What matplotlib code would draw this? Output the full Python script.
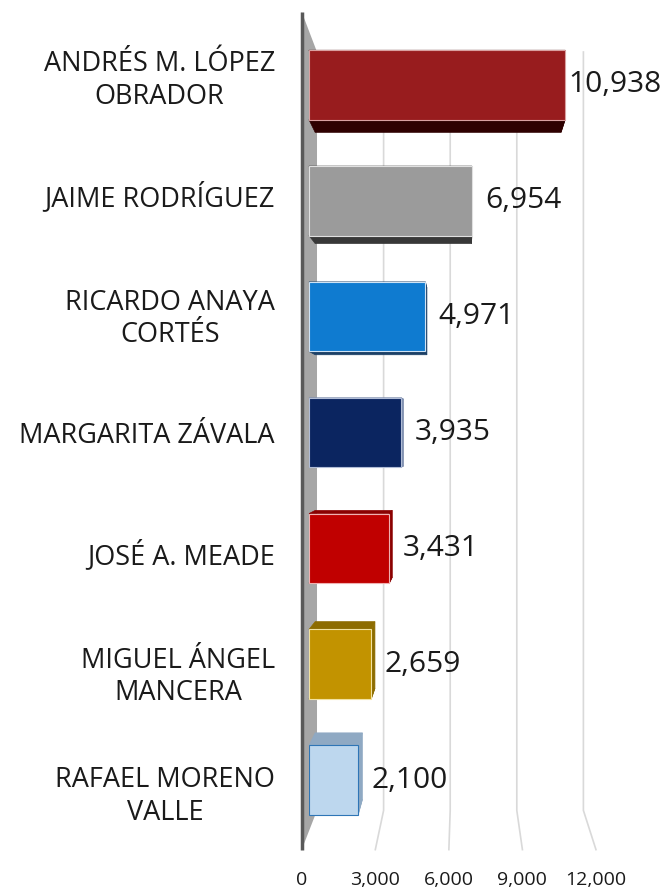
import matplotlib
matplotlib.use("Agg")
import matplotlib.pyplot as plt
from matplotlib.patches import Polygon

plt.rcParams["font.family"] = ["Open Sans", "DejaVu Sans"]

# data
candidates = [
    "ANDRÉS M. LÓPEZ\nOBRADOR",
    "JAIME RODRÍGUEZ",
    "RICARDO ANAYA\nCORTÉS",
    "MARGARITA ZÁVALA",
    "JOSÉ A. MEADE",
    "MIGUEL ÁNGEL\nMANCERA",
    "RAFAEL MORENO\nVALLE",
]
votes = [10938, 6954, 4971, 3935, 3431, 2659, 2100]
x_ticks = [0, 3000, 6000, 9000, 12000]

front_colors = ["#981c1e", "#9b9b9b", "#0f7bd0", "#0b2560", "#c00000", "#c29300", "#bdd7ee"]
side_colors = ["#2e0000", "#383838", "#1b3f66", "#8090b0", "#8b0000", "#8d6c00", "#8fa9c3"]
edge_colors = ["#d9a0a0", "#e0e0e0", "#cfe3f5", "#b0bcd6", "#f0b0b0", "#f2e2a0", "#2e75b6"]

TEXT = "#1a1a1a"
W, H, DPI = 668, 891, 100

# fake 3D: everything is a homothety about a vanishing point (data coords)
VPX, VPY = 6577, 3.02
S_FLOOR, S_WALL, S_BAR_BACK, S_LABEL = 1.047, 0.948, 0.96, 1.03
Y_TOP, Y_BOT = -0.466, 6.44
BAR_H = 0.6


def persp(x, y, s):
    return (VPX + s * (x - VPX), VPY + s * (y - VPY))


fig = plt.figure(figsize=(W / DPI, H / DPI), dpi=DPI)
ax = fig.add_axes([309 / W, 1 - 831 / H, 281 / W, 800 / H])
ax.set_xlim(0, 12000)
ax.set_ylim(Y_BOT, Y_TOP)
for sp in ax.spines.values():
    sp.set_visible(False)
ax.set_xticks([])

# side wall + axis line
wall = Polygon(
    [persp(0, Y_TOP, S_FLOOR), persp(0, Y_TOP, S_WALL),
     persp(0, Y_BOT, S_WALL), persp(0, Y_BOT, S_FLOOR)],
    closed=True, facecolor="#a6a6a6", edgecolor="none", zorder=1, clip_on=False,
)
ax.add_patch(wall)
p_top, p_bot = persp(0, Y_TOP, S_FLOOR), persp(0, Y_BOT, S_FLOOR)
ax.plot([p_top[0], p_bot[0]], [p_top[1], p_bot[1]], color="#595959", lw=2.5,
        solid_capstyle="butt", zorder=4, clip_on=False)

# gridlines on back wall, bending across the floor
for t in x_ticks[1:]:
    pts = [persp(t, Y_TOP, S_WALL), persp(t, Y_BOT, S_WALL), persp(t, Y_BOT, S_FLOOR)]
    ax.plot([p[0] for p in pts], [p[1] for p in pts], color="#d9d9d9", lw=1.2,
            zorder=0.5, clip_on=False)
for t in x_ticks:
    ax.annotate(f"{t:,}", xy=persp(t, Y_BOT, S_FLOOR), xytext=(0, -22),
                textcoords="offset points", ha="center", va="center",
                fontsize=14, color=TEXT, annotation_clip=False)

# bar side faces
for i, v in enumerate(votes):
    y0, y1 = i - BAR_H / 2, i + BAR_H / 2
    faces = [
        [(0, y0), (v, y0), persp(v, y0, S_BAR_BACK), persp(0, y0, S_BAR_BACK)],
        [(0, y1), (v, y1), persp(v, y1, S_BAR_BACK), persp(0, y1, S_BAR_BACK)],
        [(v, y0), (v, y1), persp(v, y1, S_BAR_BACK), persp(v, y0, S_BAR_BACK)],
    ]
    for f in faces:
        ax.add_patch(Polygon(f, closed=True, facecolor=side_colors[i],
                             edgecolor=side_colors[i], lw=0.5, zorder=2, clip_on=False))

ax.barh(range(len(votes)), votes, height=BAR_H, color=front_colors,
        edgecolor=edge_colors, linewidth=0.8, zorder=3)

for i, v in enumerate(votes):
    ax.annotate(f"{v:,}", xy=(min(v, 10500), i), xytext=(9.5, 0),
                textcoords="offset points", ha="left", va="center",
                fontsize=21.5, color=TEXT, annotation_clip=False)

ax.set_yticks([persp(0, i, S_LABEL)[1] for i in range(len(candidates))])
ax.set_yticklabels(candidates, fontsize=19.5, color=TEXT)
ax.tick_params(axis="y", length=0, pad=24.5)
for lbl in ax.get_yticklabels():
    lbl.set_multialignment("center")
    lbl.set_linespacing(1.22)

fig.savefig("out.png", dpi=DPI)
